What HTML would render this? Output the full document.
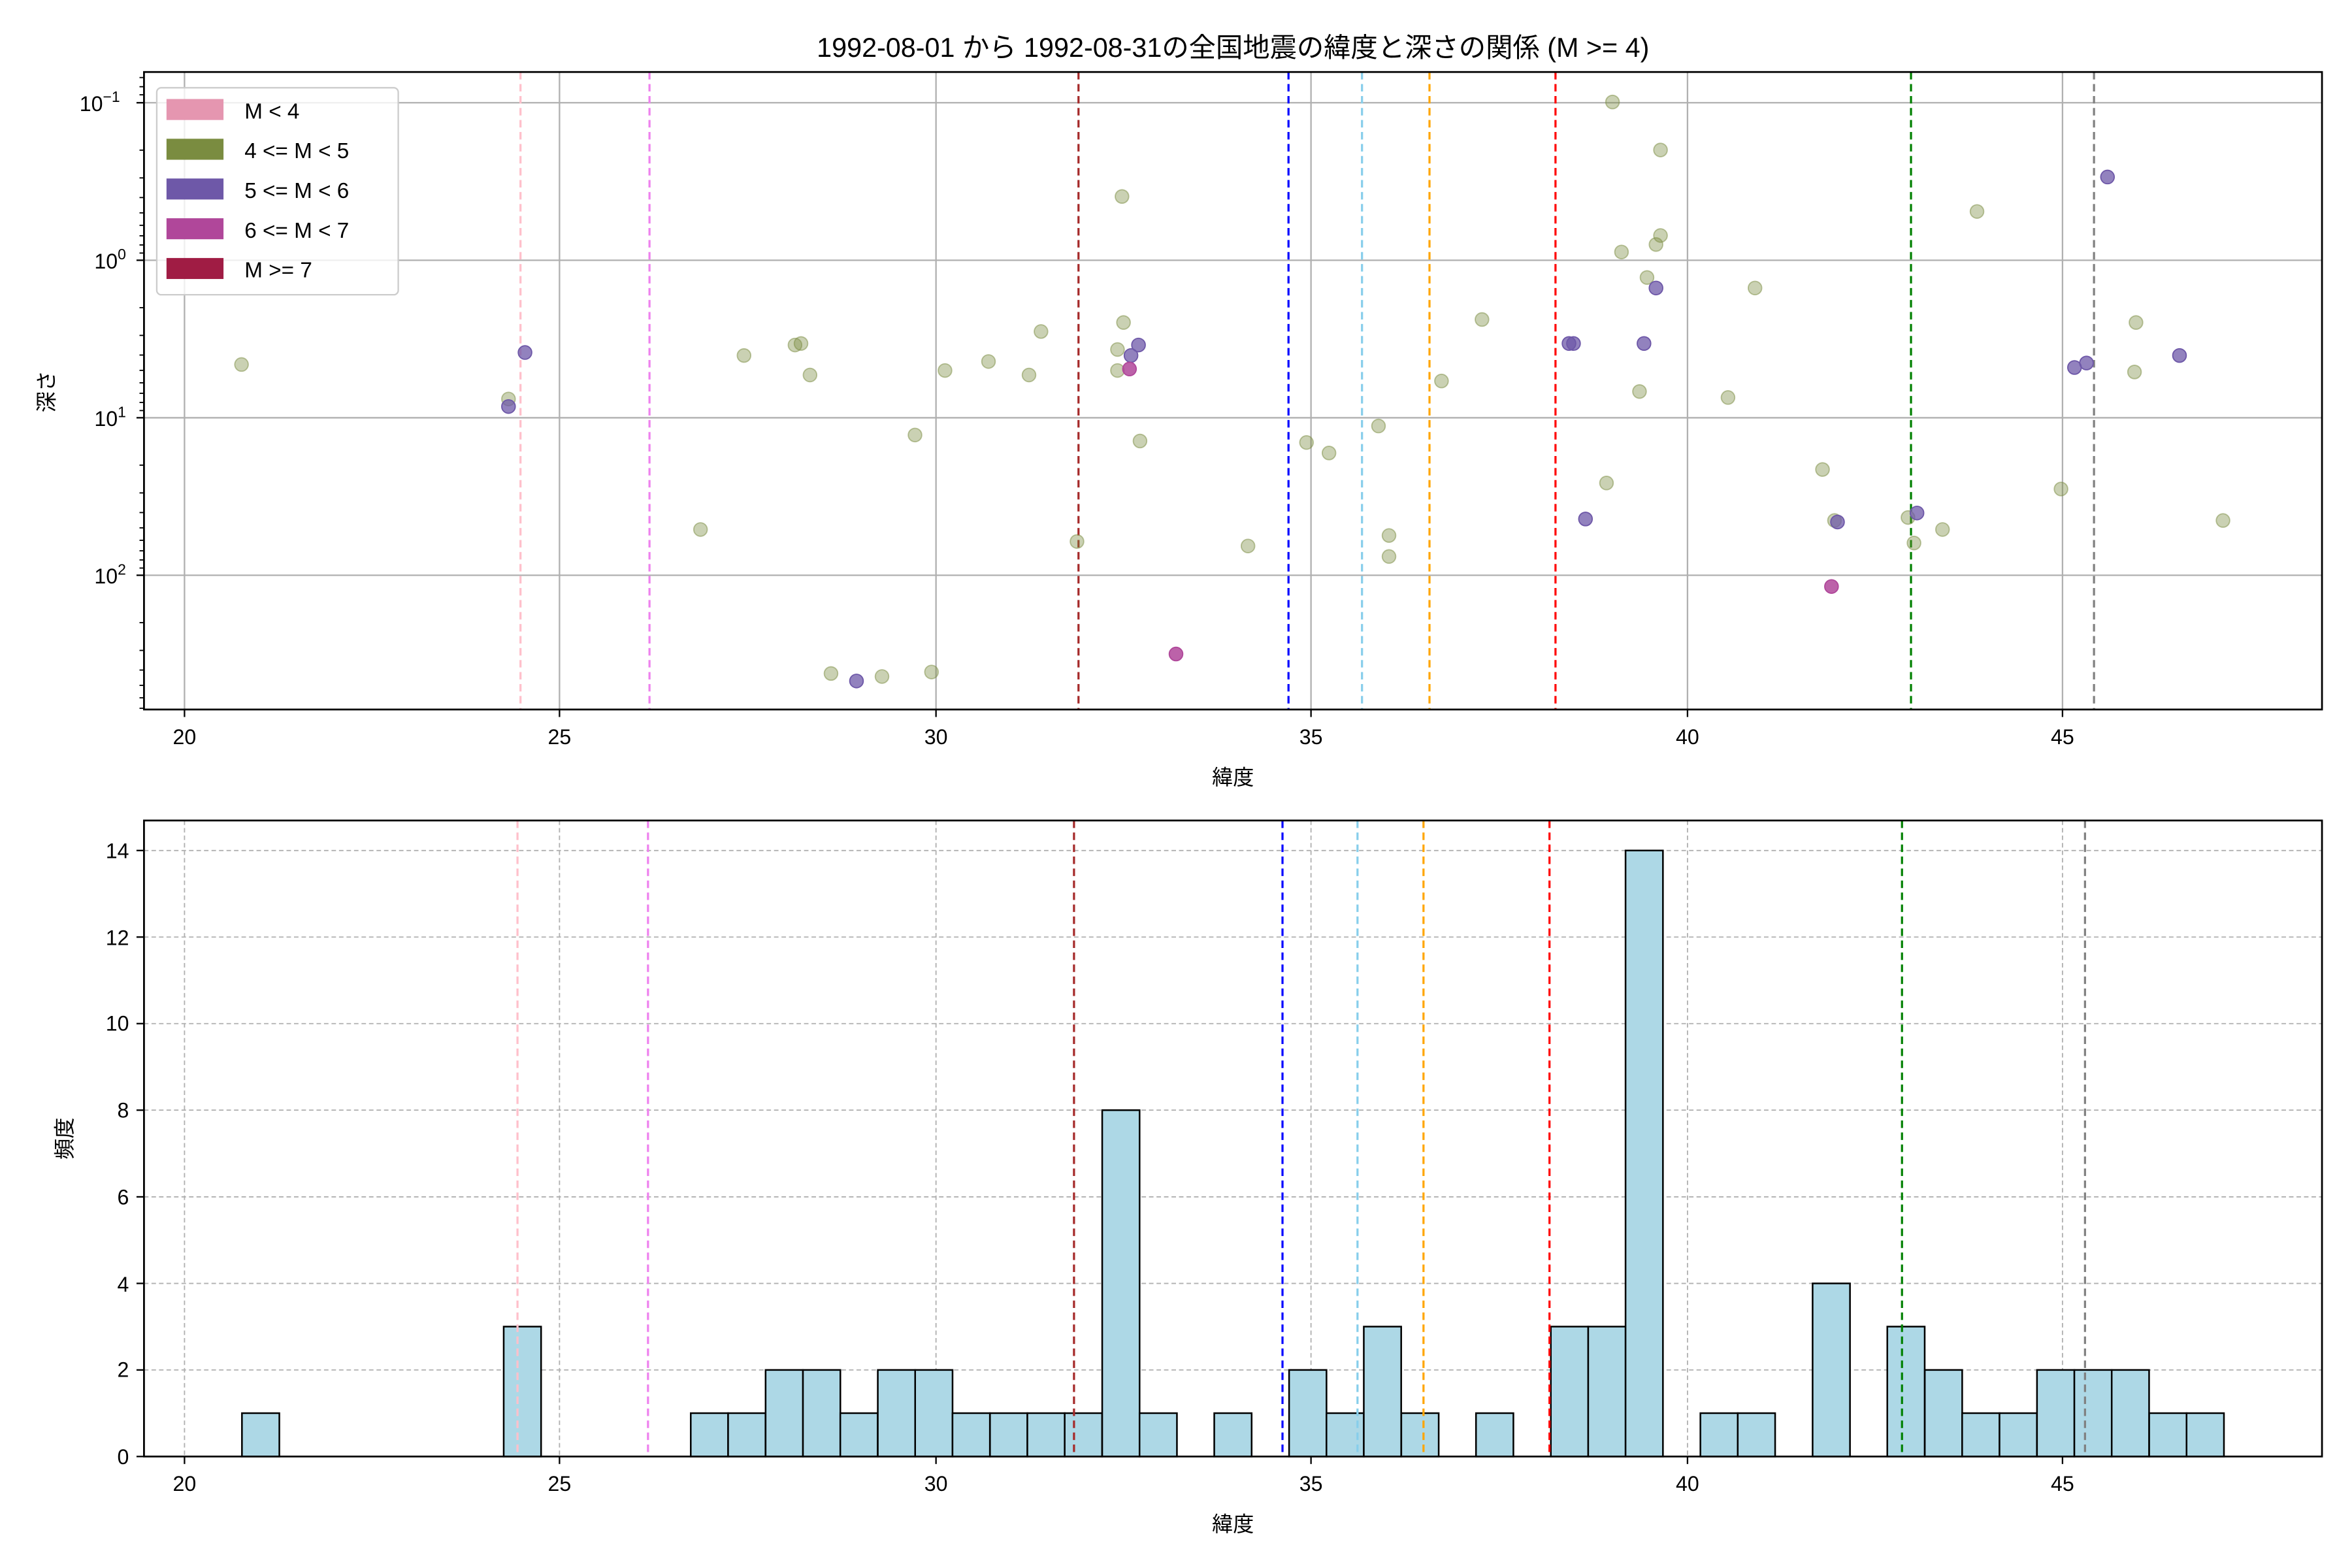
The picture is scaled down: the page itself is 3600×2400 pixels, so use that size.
<!DOCTYPE html>
<html><head><meta charset="utf-8"><style>html,body{margin:0;padding:0;background:#fff}svg{display:block}</style></head>
<body>
<svg xmlns="http://www.w3.org/2000/svg" width="3600" height="2400" viewBox="0 0 1568 1045.33" preserveAspectRatio="none" font-family="'Liberation Sans','Noto Sans CJK JP',sans-serif">
<rect width="1568" height="1046" fill="#fff"/>
<text x="822" y="38" font-size="18" text-anchor="middle">1992-08-01 から 1992-08-31の全国地震の緯度と深さの関係 (M &gt;= 4)</text>
<g stroke="#b0b0b0" stroke-width="1">
<line x1="123" y1="48" x2="123" y2="473"/><line x1="373" y1="48" x2="373" y2="473"/><line x1="624" y1="48" x2="624" y2="473"/><line x1="874" y1="48" x2="874" y2="473"/><line x1="1125" y1="48" x2="1125" y2="473"/><line x1="1375" y1="48" x2="1375" y2="473"/>
<line x1="96" y1="68.5" x2="1548" y2="68.5"/><line x1="96" y1="173.5" x2="1548" y2="173.5"/><line x1="96" y1="278.5" x2="1548" y2="278.5"/><line x1="96" y1="383.5" x2="1548" y2="383.5"/>
</g>
<g stroke-width="1.4" stroke-dasharray="5,3" fill="none">
<line x1="347" y1="48" x2="347" y2="473" stroke="pink"/>
<line x1="433" y1="48" x2="433" y2="473" stroke="violet"/>
<line x1="719" y1="48" x2="719" y2="473" stroke="brown"/>
<line x1="859" y1="48" x2="859" y2="473" stroke="blue"/>
<line x1="908" y1="48" x2="908" y2="473" stroke="skyblue"/>
<line x1="953" y1="48" x2="953" y2="473" stroke="orange"/>
<line x1="1037" y1="48" x2="1037" y2="473" stroke="red"/>
<line x1="1274" y1="48" x2="1274" y2="473" stroke="green"/>
<line x1="1396" y1="48" x2="1396" y2="473" stroke="gray"/>
</g>
<g fill="#7a8c40" fill-opacity="0.4" stroke="#7a8c40" stroke-opacity="0.5" stroke-width="0.8">
<circle cx="161" cy="243" r="4.5"/><circle cx="339" cy="266" r="4.5"/><circle cx="467" cy="353" r="4.5"/><circle cx="496" cy="237" r="4.5"/><circle cx="530" cy="230" r="4.5"/><circle cx="534" cy="229" r="4.5"/><circle cx="540" cy="250" r="4.5"/><circle cx="554" cy="449" r="4.5"/><circle cx="588" cy="451" r="4.5"/><circle cx="610" cy="290" r="4.5"/><circle cx="621" cy="448" r="4.5"/><circle cx="630" cy="247" r="4.5"/><circle cx="659" cy="241" r="4.5"/><circle cx="686" cy="250" r="4.5"/><circle cx="694" cy="221" r="4.5"/><circle cx="718" cy="361" r="4.5"/><circle cx="748" cy="131" r="4.5"/><circle cx="749" cy="215" r="4.5"/><circle cx="745" cy="233" r="4.5"/><circle cx="745" cy="247" r="4.5"/><circle cx="760" cy="294" r="4.5"/><circle cx="832" cy="364" r="4.5"/><circle cx="871" cy="295" r="4.5"/><circle cx="886" cy="302" r="4.5"/><circle cx="919" cy="284" r="4.5"/><circle cx="926" cy="357" r="4.5"/><circle cx="926" cy="371" r="4.5"/><circle cx="961" cy="254" r="4.5"/><circle cx="988" cy="213" r="4.5"/><circle cx="1075" cy="68" r="4.5"/><circle cx="1081" cy="168" r="4.5"/><circle cx="1107" cy="100" r="4.5"/><circle cx="1104" cy="163" r="4.5"/><circle cx="1107" cy="157" r="4.5"/><circle cx="1098" cy="185" r="4.5"/><circle cx="1071" cy="322" r="4.5"/><circle cx="1093" cy="261" r="4.5"/><circle cx="1152" cy="265" r="4.5"/><circle cx="1170" cy="192" r="4.5"/><circle cx="1215" cy="313" r="4.5"/><circle cx="1223" cy="347" r="4.5"/><circle cx="1272" cy="345" r="4.5"/><circle cx="1276" cy="362" r="4.5"/><circle cx="1295" cy="353" r="4.5"/><circle cx="1318" cy="141" r="4.5"/><circle cx="1374" cy="326" r="4.5"/><circle cx="1423" cy="248" r="4.5"/><circle cx="1424" cy="215" r="4.5"/><circle cx="1482" cy="347" r="4.5"/>
</g>
<g fill="#6e58a8" fill-opacity="0.75" stroke="#6e58a8" stroke-width="0.8">
<circle cx="339" cy="271" r="4.5"/><circle cx="350" cy="235" r="4.5"/><circle cx="571" cy="454" r="4.5"/><circle cx="754" cy="237" r="4.5"/><circle cx="759" cy="230" r="4.5"/><circle cx="1046" cy="229" r="4.5"/><circle cx="1049" cy="229" r="4.5"/><circle cx="1057" cy="346" r="4.5"/><circle cx="1096" cy="229" r="4.5"/><circle cx="1104" cy="192" r="4.5"/><circle cx="1225" cy="348" r="4.5"/><circle cx="1278" cy="342" r="4.5"/><circle cx="1383" cy="245" r="4.5"/><circle cx="1391" cy="242" r="4.5"/><circle cx="1405" cy="118" r="4.5"/><circle cx="1453" cy="237" r="4.5"/>
</g>
<g fill="#b0479a" fill-opacity="0.85" stroke="#b0479a" stroke-width="0.8">
<circle cx="753" cy="246" r="4.5"/><circle cx="784" cy="436" r="4.5"/><circle cx="1221" cy="391" r="4.5"/>
</g>
<rect x="104.5" y="58.5" width="161" height="138" rx="3" fill="#fff" fill-opacity="0.8" stroke="#ccc"/>
<g font-size="14.5">
<rect x="111" y="66" width="38" height="14" fill="#e596b0"/><text x="163" y="79">M &lt; 4</text>
<rect x="111" y="92.5" width="38" height="14" fill="#7a8c40"/><text x="163" y="105.5">4 &lt;= M &lt; 5</text>
<rect x="111" y="119" width="38" height="14" fill="#6e58a8"/><text x="163" y="132">5 &lt;= M &lt; 6</text>
<rect x="111" y="145.5" width="38" height="14" fill="#b0479a"/><text x="163" y="158.5">6 &lt;= M &lt; 7</text>
<rect x="111" y="172" width="38" height="14" fill="#a01c44"/><text x="163" y="185">M &gt;= 7</text>
</g>
<rect x="96" y="48" width="1452" height="425" fill="none" stroke="#000" stroke-width="1.2"/>
<g stroke="#000" stroke-width="1">
<line x1="123" y1="473" x2="123" y2="478"/><line x1="373" y1="473" x2="373" y2="478"/><line x1="624" y1="473" x2="624" y2="478"/><line x1="874" y1="473" x2="874" y2="478"/><line x1="1125" y1="473" x2="1125" y2="478"/><line x1="1375" y1="473" x2="1375" y2="478"/>
<line x1="91" y1="68.5" x2="96" y2="68.5"/><line x1="91" y1="173.5" x2="96" y2="173.5"/><line x1="91" y1="278.5" x2="96" y2="278.5"/><line x1="91" y1="383.5" x2="96" y2="383.5"/>
</g>
<g stroke="#000" stroke-width="0.8">
<line x1="93" y1="51.7" x2="96" y2="51.7"/><line x1="93" y1="57.8" x2="96" y2="57.8"/><line x1="93" y1="63.2" x2="96" y2="63.2"/>
<line x1="93" y1="100.1" x2="96" y2="100.1"/><line x1="93" y1="118.6" x2="96" y2="118.6"/><line x1="93" y1="131.7" x2="96" y2="131.7"/><line x1="93" y1="141.9" x2="96" y2="141.9"/><line x1="93" y1="150.2" x2="96" y2="150.2"/><line x1="93" y1="157.2" x2="96" y2="157.2"/><line x1="93" y1="163.3" x2="96" y2="163.3"/><line x1="93" y1="168.7" x2="96" y2="168.7"/>
<line x1="93" y1="205.1" x2="96" y2="205.1"/><line x1="93" y1="223.6" x2="96" y2="223.6"/><line x1="93" y1="236.7" x2="96" y2="236.7"/><line x1="93" y1="246.9" x2="96" y2="246.9"/><line x1="93" y1="255.2" x2="96" y2="255.2"/><line x1="93" y1="262.2" x2="96" y2="262.2"/><line x1="93" y1="268.3" x2="96" y2="268.3"/><line x1="93" y1="273.7" x2="96" y2="273.7"/>
<line x1="93" y1="310.1" x2="96" y2="310.1"/><line x1="93" y1="328.6" x2="96" y2="328.6"/><line x1="93" y1="341.7" x2="96" y2="341.7"/><line x1="93" y1="351.9" x2="96" y2="351.9"/><line x1="93" y1="360.2" x2="96" y2="360.2"/><line x1="93" y1="367.2" x2="96" y2="367.2"/><line x1="93" y1="373.3" x2="96" y2="373.3"/><line x1="93" y1="378.7" x2="96" y2="378.7"/>
<line x1="93" y1="415.1" x2="96" y2="415.1"/><line x1="93" y1="433.6" x2="96" y2="433.6"/><line x1="93" y1="446.7" x2="96" y2="446.7"/><line x1="93" y1="456.9" x2="96" y2="456.9"/><line x1="93" y1="465.2" x2="96" y2="465.2"/><line x1="93" y1="472.2" x2="96" y2="472.2"/>
</g>
<g font-size="14" text-anchor="middle">
<text x="123" y="496">20</text><text x="373" y="496">25</text><text x="624" y="496">30</text><text x="874" y="496">35</text><text x="1125" y="496">40</text><text x="1375" y="496">45</text>
</g>
<g font-size="14" text-anchor="end">
<text x="80" y="74">10<tspan font-size="10" dy="-6">−1</tspan></text>
<text x="84" y="179">10<tspan font-size="10" dy="-6">0</tspan></text>
<text x="84" y="284">10<tspan font-size="10" dy="-6">1</tspan></text>
<text x="84" y="389">10<tspan font-size="10" dy="-6">2</tspan></text>
</g>
<text x="822" y="523" font-size="14" text-anchor="middle">緯度</text>
<text x="36" y="261" font-size="14" text-anchor="middle" transform="rotate(-90 36 261)">深さ</text>

<g stroke="#b0b0b0" stroke-width="0.8" stroke-dasharray="3,2">
<line x1="123" y1="547" x2="123" y2="971"/><line x1="373" y1="547" x2="373" y2="971"/><line x1="624" y1="547" x2="624" y2="971"/><line x1="874" y1="547" x2="874" y2="971"/><line x1="1125" y1="547" x2="1125" y2="971"/><line x1="1375" y1="547" x2="1375" y2="971"/>
<line x1="96" y1="913.3" x2="1548" y2="913.3"/><line x1="96" y1="855.6" x2="1548" y2="855.6"/><line x1="96" y1="797.9" x2="1548" y2="797.9"/><line x1="96" y1="740.1" x2="1548" y2="740.1"/><line x1="96" y1="682.4" x2="1548" y2="682.4"/><line x1="96" y1="624.7" x2="1548" y2="624.7"/><line x1="96" y1="567" x2="1548" y2="567"/>
</g>
<g fill="#add8e6" stroke="#000" stroke-width="1.1">
<rect x="161.3" y="942.1" width="24.93" height="28.9"/>
<rect x="335.8" y="884.4" width="24.93" height="86.6"/>
<rect x="460.5" y="942.1" width="24.93" height="28.9"/>
<rect x="485.4" y="942.1" width="24.93" height="28.9"/>
<rect x="510.4" y="913.3" width="24.93" height="57.7"/>
<rect x="535.3" y="913.3" width="24.93" height="57.7"/>
<rect x="560.2" y="942.1" width="24.93" height="28.9"/>
<rect x="585.2" y="913.3" width="24.93" height="57.7"/>
<rect x="610.1" y="913.3" width="24.93" height="57.7"/>
<rect x="635.0" y="942.1" width="24.93" height="28.9"/>
<rect x="660.0" y="942.1" width="24.93" height="28.9"/>
<rect x="684.9" y="942.1" width="24.93" height="28.9"/>
<rect x="709.8" y="942.1" width="24.93" height="28.9"/>
<rect x="734.8" y="740.1" width="24.93" height="230.9"/>
<rect x="759.7" y="942.1" width="24.93" height="28.9"/>
<rect x="809.5" y="942.1" width="24.93" height="28.9"/>
<rect x="859.4" y="913.3" width="24.93" height="57.7"/>
<rect x="884.3" y="942.1" width="24.93" height="28.9"/>
<rect x="909.2" y="884.4" width="24.93" height="86.6"/>
<rect x="934.2" y="942.1" width="24.93" height="28.9"/>
<rect x="984.0" y="942.1" width="24.93" height="28.9"/>
<rect x="1033.9" y="884.4" width="24.93" height="86.6"/>
<rect x="1058.8" y="884.4" width="24.93" height="86.6"/>
<rect x="1083.7" y="567" width="24.93" height="404"/>
<rect x="1133.6" y="942.1" width="24.93" height="28.9"/>
<rect x="1158.5" y="942.1" width="24.93" height="28.9"/>
<rect x="1208.4" y="855.6" width="24.93" height="115.4"/>
<rect x="1258.2" y="884.4" width="24.93" height="86.6"/>
<rect x="1283.2" y="913.3" width="24.93" height="57.7"/>
<rect x="1308.1" y="942.1" width="24.93" height="28.9"/>
<rect x="1333.0" y="942.1" width="24.93" height="28.9"/>
<rect x="1358.0" y="913.3" width="24.93" height="57.7"/>
<rect x="1382.9" y="913.3" width="24.93" height="57.7"/>
<rect x="1407.8" y="913.3" width="24.93" height="57.7"/>
<rect x="1432.8" y="942.1" width="24.93" height="28.9"/>
<rect x="1457.7" y="942.1" width="24.93" height="28.9"/>
</g>
<g stroke-width="1.4" stroke-dasharray="5,3" fill="none">
<line x1="345" y1="547" x2="345" y2="971" stroke="pink"/>
<line x1="432" y1="547" x2="432" y2="971" stroke="violet"/>
<line x1="716" y1="547" x2="716" y2="971" stroke="brown"/>
<line x1="855" y1="547" x2="855" y2="971" stroke="blue"/>
<line x1="905" y1="547" x2="905" y2="971" stroke="skyblue"/>
<line x1="949" y1="547" x2="949" y2="971" stroke="orange"/>
<line x1="1033" y1="547" x2="1033" y2="971" stroke="red"/>
<line x1="1268" y1="547" x2="1268" y2="971" stroke="green"/>
<line x1="1390" y1="547" x2="1390" y2="971" stroke="gray"/>
</g>
<rect x="96" y="547" width="1452" height="424" fill="none" stroke="#000" stroke-width="1.2"/>
<g stroke="#000" stroke-width="1">
<line x1="123" y1="971" x2="123" y2="976"/><line x1="373" y1="971" x2="373" y2="976"/><line x1="624" y1="971" x2="624" y2="976"/><line x1="874" y1="971" x2="874" y2="976"/><line x1="1125" y1="971" x2="1125" y2="976"/><line x1="1375" y1="971" x2="1375" y2="976"/>
<line x1="91" y1="971" x2="96" y2="971"/><line x1="91" y1="913.3" x2="96" y2="913.3"/><line x1="91" y1="855.6" x2="96" y2="855.6"/><line x1="91" y1="797.9" x2="96" y2="797.9"/><line x1="91" y1="740.1" x2="96" y2="740.1"/><line x1="91" y1="682.4" x2="96" y2="682.4"/><line x1="91" y1="624.7" x2="96" y2="624.7"/><line x1="91" y1="567" x2="96" y2="567"/>
</g>
<g font-size="14" text-anchor="middle">
<text x="123" y="994">20</text><text x="373" y="994">25</text><text x="624" y="994">30</text><text x="874" y="994">35</text><text x="1125" y="994">40</text><text x="1375" y="994">45</text>
</g>
<g font-size="14" text-anchor="end">
<text x="86" y="976">0</text><text x="86" y="918">2</text><text x="86" y="861">4</text><text x="86" y="803">6</text><text x="86" y="745">8</text><text x="86" y="687">10</text><text x="86" y="630">12</text><text x="86" y="572">14</text>
</g>
<text x="822" y="1021" font-size="14" text-anchor="middle">緯度</text>
<text x="48" y="759" font-size="14" text-anchor="middle" transform="rotate(-90 48 759)">頻度</text>
</svg>
</body></html>
